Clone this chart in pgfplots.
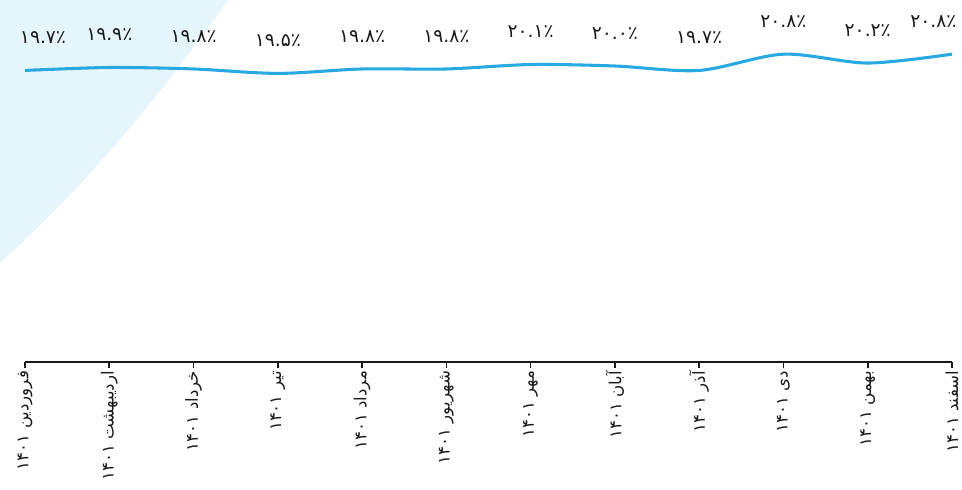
\documentclass[border=0pt]{standalone}
\usepackage{fontspec}
\usepackage{pgfplots}
\pgfplotsset{compat=1.18}
\TeXXeTstate=1
\newfontfamily\arabicfont[Script=Arabic]{DejaVu Sans}
\definecolor{linec}{HTML}{29A9E1}
\definecolor{bgc}{HTML}{E5F5FC}
\definecolor{txt}{HTML}{1A1A1A}
\begin{document}
\begin{tikzpicture}
\path[use as bounding box] (0pt,0pt) rectangle (721.5pt,366.75pt);
\fill[bgc] (0pt,366.75pt) -- (171pt,366.75pt) .. controls (112.5pt,284.25pt) and (60pt,224.25pt) .. (0pt,169.5pt) -- cycle;
\begin{axis}[
  at={(18.75pt,95.25pt)}, anchor=south west,
  scale only axis,
  width=695.25pt, height=271.5pt,
  xmin=0, xmax=11, ymin=0, ymax=24.46,
  clip=false,
  axis x line*=bottom,
  hide y axis,
  x axis line style={line width=1.5pt, black!90},
  xtick={0,...,11},
  xticklabels={
    {\beginR فروردین ۱۴۰۱\endR},
    {\beginR اردیبهشت ۱۴۰۱\endR},
    {\beginR خرداد ۱۴۰۱\endR},
    {\beginR تیر ۱۴۰۱\endR},
    {\beginR مرداد ۱۴۰۱\endR},
    {\beginR شهریور ۱۴۰۱\endR},
    {\beginR مهر ۱۴۰۱\endR},
    {\beginR آبان ۱۴۰۱\endR},
    {\beginR آذر ۱۴۰۱\endR},
    {\beginR دی ۱۴۰۱\endR},
    {\beginR بهمن ۱۴۰۱\endR},
    {\beginR اسفند ۱۴۰۱\endR}},
  tick align=outside,
  major tick length=4.5pt,
  x tick style={line width=1.2pt, black!90},
  xticklabel style={rotate=90, anchor=east, font=\arabicfont\fontsize{12.5}{14}\selectfont, text=txt, inner sep=2pt},
]
\addplot[color=linec, line width=2.3pt, smooth,
  nodes near coords,
  point meta=explicit symbolic,
  visualization depends on={x \as \xv},
  every node near coord/.append style={font=\arabicfont\fontsize{14}{16}\selectfont, text=txt, anchor=south, yshift=15.5pt,
    xshift={\xv==0 ? 13.5 : (\xv==11 ? -14 : 0)}},
] coordinates {
(0,19.7) [\beginR ۱۹.۷٪\endR]
(1,19.9) [\beginR ۱۹.۹٪\endR]
(2,19.8) [\beginR ۱۹.۸٪\endR]
(3,19.5) [\beginR ۱۹.۵٪\endR]
(4,19.8) [\beginR ۱۹.۸٪\endR]
(5,19.8) [\beginR ۱۹.۸٪\endR]
(6,20.1) [\beginR ۲۰.۱٪\endR]
(7,20.0) [\beginR ۲۰.۰٪\endR]
(8,19.7) [\beginR ۱۹.۷٪\endR]
(9,20.8) [\beginR ۲۰.۸٪\endR]
(10,20.2) [\beginR ۲۰.۲٪\endR]
(11,20.8) [\beginR ۲۰.۸٪\endR]
};
\end{axis}
\end{tikzpicture}
\end{document}
